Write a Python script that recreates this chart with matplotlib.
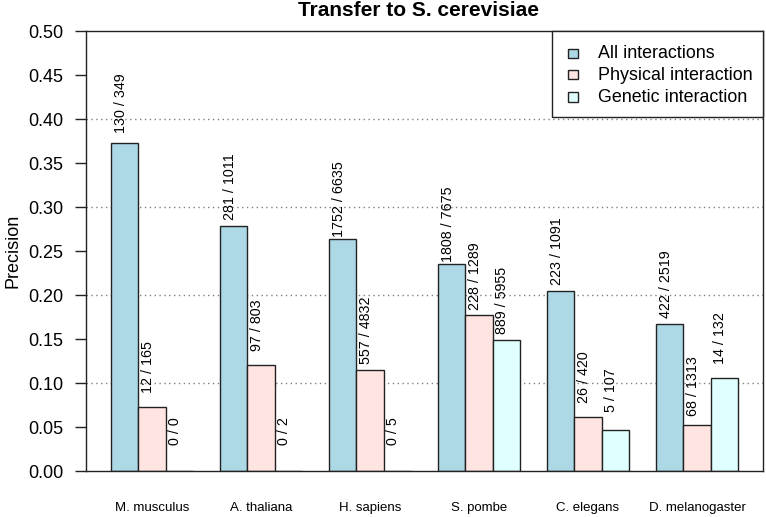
import matplotlib
matplotlib.use('Agg')
import matplotlib.pyplot as plt
from matplotlib.patches import Rectangle

plt.rcParams['font.family'] = ['Liberation Sans', 'DejaVu Sans']

species = ["M. musculus", "A. thaliana", "H. sapiens", "S. pombe", "C. elegans", "D. melanogaster"]
series = ["All interactions", "Physical interaction", "Genetic interaction"]
all_hits = [130, 281, 1752, 1808, 223, 422]
all_total = [349, 1011, 6635, 7675, 1091, 2519]
phys_hits = [12, 97, 557, 228, 26, 68]
phys_total = [165, 803, 4832, 1289, 420, 1313]
gen_hits = [0, 0, 0, 889, 5, 14]
gen_total = [0, 2, 5, 5955, 107, 132]
colors = ["#ADD8E6", "#FFE4E1", "#E0FFFF"]
yticks = [0.00, 0.05, 0.10, 0.15, 0.20, 0.25, 0.30, 0.35, 0.40, 0.45, 0.50]
grid_levels = [0.10, 0.20, 0.30, 0.40]

hits = [all_hits, phys_hits, gen_hits]
totals = [all_total, phys_total, gen_total]

W, H = 766, 517
fig = plt.figure(figsize=(W / 100, H / 100), dpi=100)
ax = fig.add_axes([86 / W, 46 / H, 677 / W, 440 / H])

for g in grid_levels:
    ax.axhline(g, color='#808080', linestyle=(0, (1, 2.5)), linewidth=1, zorder=0)

edge = '#222222'
n = len(species)
for s in range(3):
    vals = [h / t if t > 0 else 0.0 for h, t in zip(hits[s], totals[s])]
    lefts = [1 + 4 * g + s for g in range(n)]
    ax.bar(lefts, vals, width=1, align='edge', color=colors[s], edgecolor=edge,
           linewidth=1, zorder=2, label=series[s])
    for x0, v, h, t in zip(lefts, vals, hits[s], totals[s]):
        ax.text(x0 + 0.5, v + 0.045, f"{h} / {t}", rotation=90, rotation_mode='anchor',
                ha='center', va='baseline', fontsize=10.3, zorder=3)

ax.set_xlim(0.08, 24.92)
ax.set_ylim(0, 0.5)
ax.set_yticks(yticks)
ax.set_yticklabels([f"{v:.2f}" for v in yticks], fontsize=13)
ax.tick_params(axis='y', length=8, width=1, pad=8.5, color=edge)
ax.set_xticks([2.5 + 4 * g for g in range(n)])
ax.set_xticklabels(species, fontsize=9.5)
ax.tick_params(axis='x', length=0, pad=22)
for sp in ax.spines.values():
    sp.set_linewidth(1)
    sp.set_color(edge)

fig.text(13 / W, 1 - 251 / H, "Precision", rotation=90, ha='center', va='center', fontsize=13)
fig.text(419 / W, 1 - 11 / H, "Transfer to S. cerevisiae", ha='center', va='center',
         fontsize=15, fontweight='bold')

# legend drawn manually (R-style compact legend)
def fx(px):
    return px / W

def fy(py):
    return 1 - py / H

fig.patches.append(Rectangle((fx(552), fy(117)), 211 / W, 86 / H, transform=fig.transFigure,
                             facecolor='white', edgecolor=edge, linewidth=1, zorder=5))
for i, (lab, c) in enumerate(zip(series, colors)):
    cy = 53 + 22 * i
    fig.patches.append(Rectangle((fx(568), fy(cy + 4.5)), 10 / W, 9 / H, transform=fig.transFigure,
                                 facecolor=c, edgecolor=edge, linewidth=1, zorder=6))
    fig.text(fx(598), fy(cy), lab, ha='left', va='center', fontsize=12.9, zorder=6)

fig.savefig('out.png', dpi=100)
